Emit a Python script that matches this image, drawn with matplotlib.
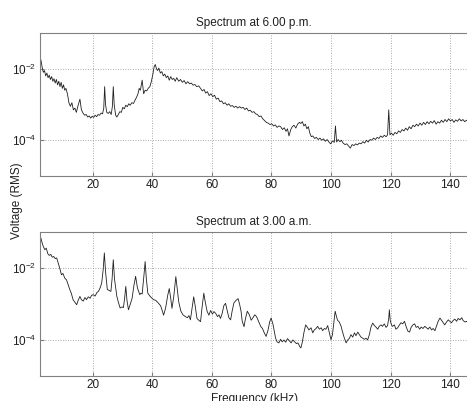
import numpy as np
import matplotlib
matplotlib.use('Agg')
import matplotlib.pyplot as plt
from matplotlib.ticker import LogFormatterMathtext, NullLocator

plt.rcParams['font.family'] = ['Liberation Sans', 'DejaVu Sans']
plt.rcParams['mathtext.default'] = 'regular'

# ---- data: frequency (kHz) and log10 of RMS voltage ----
f_pm = [2.3, 2.6, 3.0, 3.4, 3.8, 4.2, 4.6, 5.0, 5.4, 5.8, 6.2, 6.6, 7.0, 7.4, 7.8,
        8.2, 8.6, 9.0, 9.4, 9.8, 10.2, 10.6, 11.0, 11.5, 12.0, 12.5, 13.0, 13.5,
        14.0, 14.5, 15.0, 15.7, 16.2, 16.8, 17.3, 17.8, 18.3, 18.8, 19.3, 19.8,
        20.3, 20.8, 21.3, 21.8, 22.3, 22.8, 23.3, 23.7, 24.0, 24.3, 24.7, 25.2,
        25.7, 26.2, 26.6, 26.9, 27.2, 27.7, 28.1, 28.6, 29.1, 29.6, 30.1, 30.6,
        31.1, 31.6, 32.1, 32.6, 33.1, 33.7, 34.2, 34.7, 35.2, 35.6, 36.0, 36.6,
        37.1, 37.6, 38.1, 38.7, 39.2, 39.7, 40.2, 40.6, 41.0, 41.4, 41.8, 42.2,
        42.7, 43.2, 43.7, 44.2, 44.7, 45.2, 45.7, 46.2, 46.7, 47.2, 47.7, 48.2,
        48.9, 49.5, 50.1, 50.7, 51.3, 51.9, 52.5, 53.1, 53.7, 54.3, 54.9, 55.6,
        56.2, 56.8, 57.4, 57.9, 58.5, 59.1, 59.7, 60.3, 60.9, 61.5, 62.1, 62.7,
        63.3, 63.9, 64.5, 65.1, 65.7, 66.3, 66.9, 67.5, 68.1, 68.7, 69.3, 69.9,
        70.5, 71.1, 71.7, 72.3, 72.9, 73.5, 74.1, 74.7, 75.3, 75.9, 76.5, 77.1,
        77.7, 78.3, 78.9, 79.5, 80.1, 80.7, 81.3, 81.9, 82.5, 83.1, 83.7, 84.3,
        84.9, 85.4, 85.9, 86.5, 87.0, 87.6, 88.2, 88.8, 89.4, 89.9, 90.4, 90.9,
        91.4, 91.9, 92.4, 92.9, 93.4, 93.9, 94.5, 95.1, 95.7, 96.3, 96.9, 97.5,
        98.1, 98.7, 99.3, 99.9, 100.5, 101.1, 101.5, 101.9, 102.4, 103.0, 103.5,
        104.1, 104.7, 105.3, 105.9, 106.5, 107.1, 107.7, 108.3, 108.9, 109.5,
        110.1, 110.7, 111.3, 111.9, 112.5, 113.1, 113.7, 114.3, 114.9, 115.5,
        116.1, 116.7, 117.3, 117.9, 118.5, 119.0, 119.4, 119.8, 120.3, 120.9,
        121.5, 122.1, 122.7, 123.3, 123.9, 124.5, 125.1, 125.7, 126.3, 126.9,
        127.5, 128.1, 128.7, 129.3, 129.9, 130.5, 131.1, 131.7, 132.3, 132.9,
        133.5, 134.1, 134.7, 135.3, 135.9, 136.5, 137.1, 137.7, 138.3, 138.9,
        139.5, 140.1, 140.7, 141.3, 141.9, 142.5, 143.1, 143.7, 144.3, 144.9,
        145.5, 146.1]
lv_pm = [-1.80, -1.75, -1.95, -2.10, -2.05, -2.20, -2.12, -2.25, -2.18, -2.30,
         -2.22, -2.35, -2.28, -2.40, -2.30, -2.45, -2.35, -2.50, -2.38, -2.55,
         -2.45, -2.60, -2.55, -2.70, -2.95, -3.05, -2.95, -3.15, -3.10, -3.22,
         -3.05, -2.85, -3.15, -3.25, -3.30, -3.28, -3.35, -3.32, -3.38, -3.33,
         -3.36, -3.30, -3.34, -3.28, -3.30, -3.24, -3.26, -3.10, -2.50, -3.00,
         -3.22, -3.25, -3.20, -3.28, -3.05, -2.50, -3.00, -3.30, -3.35, -3.28,
         -3.20, -3.22, -3.08, -3.12, -3.02, -3.06, -2.98, -3.02, -2.95, -2.97,
         -2.88, -2.80, -2.70, -2.55, -2.60, -2.32, -2.70, -2.60, -2.62, -2.54,
         -2.50, -2.35, -2.15, -1.95, -1.88, -2.00, -2.05, -1.98, -2.12, -2.08,
         -2.20, -2.15, -2.25, -2.20, -2.32, -2.22, -2.30, -2.27, -2.35, -2.25,
         -2.35, -2.30, -2.38, -2.33, -2.42, -2.36, -2.42, -2.40, -2.46, -2.44,
         -2.50, -2.48, -2.55, -2.62, -2.58, -2.68, -2.64, -2.75, -2.70, -2.78,
         -2.74, -2.85, -2.82, -2.92, -2.90, -2.98, -2.95, -3.02, -2.98, -3.05,
         -3.03, -3.08, -3.05, -3.10, -3.06, -3.10, -3.08, -3.14, -3.10, -3.18,
         -3.16, -3.22, -3.20, -3.26, -3.28, -3.34, -3.32, -3.40, -3.45, -3.50,
         -3.52, -3.56, -3.54, -3.60, -3.57, -3.64, -3.60, -3.62, -3.70, -3.65,
         -3.75, -3.68, -3.88, -3.70, -3.62, -3.58, -3.66, -3.55, -3.50, -3.53,
         -3.48, -3.60, -3.55, -3.68, -3.62, -3.80, -3.90, -3.88, -3.95, -3.92,
         -3.98, -3.94, -4.00, -3.96, -4.03, -3.98, -4.05, -4.10, -4.02, -4.06,
         -3.60, -4.05, -3.98, -4.04, -4.00, -4.08, -4.12, -4.10, -4.16, -4.22,
         -4.12, -4.15, -4.10, -4.13, -4.08, -4.10, -4.04, -4.08, -4.00, -4.05,
         -3.98, -4.00, -3.94, -3.98, -3.92, -3.95, -3.88, -3.92, -3.86, -3.90,
         -3.85, -3.15, -3.85, -3.80, -3.86, -3.78, -3.82, -3.74, -3.78, -3.70,
         -3.74, -3.66, -3.72, -3.62, -3.68, -3.58, -3.62, -3.55, -3.60, -3.52,
         -3.58, -3.50, -3.56, -3.48, -3.54, -3.47, -3.52, -3.45, -3.55, -3.48,
         -3.52, -3.44, -3.50, -3.42, -3.48, -3.40, -3.46, -3.42, -3.50, -3.43,
         -3.47, -3.40, -3.46, -3.42, -3.48, -3.44, -3.46]

f_am = [2.3, 2.6, 3.0, 3.4, 3.9, 4.4, 4.9, 5.4, 5.9, 6.4, 6.9, 7.4, 7.9, 8.4,
        8.9, 9.5, 10.0, 10.6, 11.2, 11.7, 12.3, 12.8, 13.4, 14.0, 14.6, 15.1,
        15.7, 16.2, 16.8, 17.4, 17.9, 18.5, 19.1, 19.6, 20.2, 20.8, 21.4, 21.9,
        22.5, 23.0, 23.5, 23.9, 24.3, 24.9, 25.5, 26.1, 26.5, 26.9, 27.3, 28.1,
        28.6, 29.2, 29.8, 30.3, 30.7, 31.1, 31.5, 32.0, 32.6, 33.2, 33.8, 34.4,
        35.0, 35.8, 36.2, 36.6, 37.2, 37.6, 38.0, 38.5, 39.2, 39.9, 40.5, 41.2,
        42.1, 42.8, 43.4, 43.8, 44.5, 45.2, 45.7, 46.2, 46.6, 47.2, 47.9, 48.4,
        48.9, 49.6, 50.3, 51.1, 51.8, 52.3, 52.8, 53.4, 53.9, 54.4, 55.0, 55.6,
        56.2, 56.7, 57.3, 57.8, 58.4, 59.0, 59.6, 60.2, 60.7, 61.3, 61.9, 62.4,
        62.9, 63.5, 64.0, 64.6, 65.2, 65.7, 66.3, 66.8, 67.4, 68.1, 68.8, 69.3,
        69.8, 70.2, 70.8, 71.3, 71.9, 72.6, 73.2, 73.8, 74.4, 75.0, 75.8, 76.4,
        77.0, 77.6, 78.2, 78.8, 79.4, 79.9, 80.5, 81.0, 81.4, 81.9, 82.5, 83.1,
        83.6, 84.2, 84.8, 85.4, 86.0, 86.6, 87.2, 87.8, 88.4, 88.9, 89.5, 89.9,
        90.4, 90.9, 91.5, 92.1, 92.6, 93.3, 93.9, 94.4, 95.0, 95.5, 96.1, 96.7,
        97.2, 97.8, 98.3, 98.9, 99.4, 100.0, 100.5, 101.0, 101.4, 101.7, 102.2,
        102.8, 103.4, 103.9, 104.5, 105.1, 105.6, 106.2, 106.7, 107.3, 107.9,
        108.4, 109.0, 109.6, 110.1, 110.7, 111.2, 111.8, 112.3, 112.9, 113.4,
        114.0, 114.6, 115.1, 115.7, 116.2, 116.8, 117.3, 117.9, 118.5, 119.0,
        119.4, 119.6, 119.9, 120.3, 120.7, 121.3, 121.8, 122.4, 123.0, 123.5,
        124.1, 124.7, 125.2, 125.8, 126.4, 126.9, 127.5, 128.1, 128.6, 129.2,
        129.8, 130.3, 130.9, 131.5, 132.1, 132.6, 133.2, 133.8, 134.3, 134.9,
        135.5, 136.0, 136.6, 137.1, 137.7, 138.2, 138.8, 139.4, 139.9, 140.5,
        141.0, 141.6, 142.2, 142.7, 143.3, 143.9, 144.4, 145.0, 145.6, 146.1]
lv_am = [-1.25, -1.17, -1.30, -1.40, -1.49, -1.45, -1.60, -1.65, -1.62, -1.70,
         -1.68, -1.74, -1.72, -1.86, -2.00, -2.19, -2.15, -2.28, -2.33, -2.45,
         -2.60, -2.70, -2.88, -2.95, -3.02, -2.90, -2.79, -2.88, -2.92, -2.82,
         -2.88, -2.80, -2.84, -2.76, -2.74, -2.78, -2.68, -2.65, -2.55, -2.42,
         -2.05, -1.58, -2.10, -2.60, -2.62, -2.65, -2.30, -1.77, -2.30, -2.79,
         -2.95, -3.11, -3.08, -3.10, -2.85, -2.51, -2.90, -3.16, -3.00, -2.85,
         -2.50, -2.23, -2.55, -2.74, -2.70, -2.72, -2.20, -1.82, -2.30, -2.70,
         -2.78, -2.84, -2.88, -2.90, -2.98, -3.05, -3.20, -3.31, -3.10, -2.75,
         -2.57, -2.85, -3.12, -2.80, -2.24, -2.60, -2.95, -3.20, -3.30, -3.35,
         -3.38, -3.32, -3.44, -3.10, -2.80, -3.05, -3.40, -3.45, -3.49, -3.10,
         -2.70, -2.95, -3.20, -3.31, -3.18, -3.28, -3.21, -3.26, -3.35, -3.30,
         -3.40, -3.25, -3.05, -2.98, -3.20, -3.38, -3.44, -3.20, -2.97, -2.90,
         -2.85, -3.00, -3.20, -3.48, -3.63, -3.40, -3.20, -3.30, -3.45, -3.38,
         -3.30, -3.35, -3.50, -3.62, -3.68, -3.80, -3.90, -3.75, -3.50, -3.39,
         -3.55, -3.78, -3.95, -4.05, -4.08, -3.98, -4.05, -4.00, -4.06, -3.96,
         -4.02, -4.08, -4.00, -4.05, -4.10, -4.08, -4.18, -4.22, -4.05, -3.80,
         -3.58, -3.65, -3.72, -3.66, -3.80, -3.72, -3.68, -3.62, -3.70, -3.66,
         -3.74, -3.68, -3.70, -3.60, -3.78, -3.99, -3.85, -3.50, -3.20, -3.30,
         -3.45, -3.50, -3.62, -3.78, -3.95, -4.08, -4.00, -3.95, -3.85, -3.92,
         -3.80, -3.88, -3.78, -3.86, -3.92, -3.95, -3.98, -3.95, -4.00, -3.85,
         -3.65, -3.53, -3.60, -3.64, -3.70, -3.62, -3.58, -3.62, -3.55, -3.65,
         -3.60, -3.40, -3.16, -3.45, -3.58, -3.62, -3.58, -3.70, -3.66, -3.58,
         -3.52, -3.55, -3.48, -3.62, -3.75, -3.78, -3.65, -3.58, -3.55, -3.65,
         -3.62, -3.70, -3.64, -3.68, -3.62, -3.66, -3.70, -3.64, -3.72, -3.68,
         -3.74, -3.60, -3.48, -3.39, -3.45, -3.52, -3.58, -3.50, -3.44, -3.48,
         -3.52, -3.46, -3.42, -3.48, -3.40, -3.44, -3.38, -3.46, -3.50, -3.48,
         -3.53]

titles = ['Spectrum at 6.00 p.m.', 'Spectrum at 3.00 a.m.']
xticks = [20, 40, 60, 80, 100, 120, 140]
yticks = [1e-4, 1e-2]

fig = plt.figure(figsize=(4.67, 4.01), dpi=100)
ax_top = fig.add_axes([0.0857, 0.5611, 0.917, 0.3566])
ax_bot = fig.add_axes([0.0857, 0.0623, 0.917, 0.3591])

series = [(f_pm, lv_pm), (f_am, lv_am)]
for ax, (f, lv), title in zip([ax_top, ax_bot], series, titles):
    ax.semilogy(f, 10 ** np.array(lv), color='#202020', lw=0.6)
    ax.set_xlim(2.3, 146.1)
    ax.set_ylim(1e-5, 1e-1)
    ax.set_xticks(xticks)
    ax.set_yticks(yticks)
    ax.yaxis.set_major_formatter(LogFormatterMathtext())
    ax.yaxis.set_minor_locator(NullLocator())
    ax.grid(True, color='#909090', ls=(0, (1, 2)), lw=0.6)
    ax.tick_params(direction='in', length=3, labelsize=8.5, color='#808080',
                   labelcolor='#202020', pad=2.5)
    for sp in ax.spines.values():
        sp.set_color('#808080')
        sp.set_linewidth(0.8)
    ax.set_title(title, fontsize=8.5, pad=5, color='#202020')

fig.text(0.036, 0.5, 'Voltage (RMS)', rotation=90, ha='center', va='center',
         fontsize=8.5, color='#202020')
# x label sits low, partly clipped by the bottom edge as in the original
fig.text(0.545, 0.019, 'Frequency (kHz)', ha='center', va='top',
         fontsize=8.5, color='#202020')

fig.savefig('out.png', dpi=100)
